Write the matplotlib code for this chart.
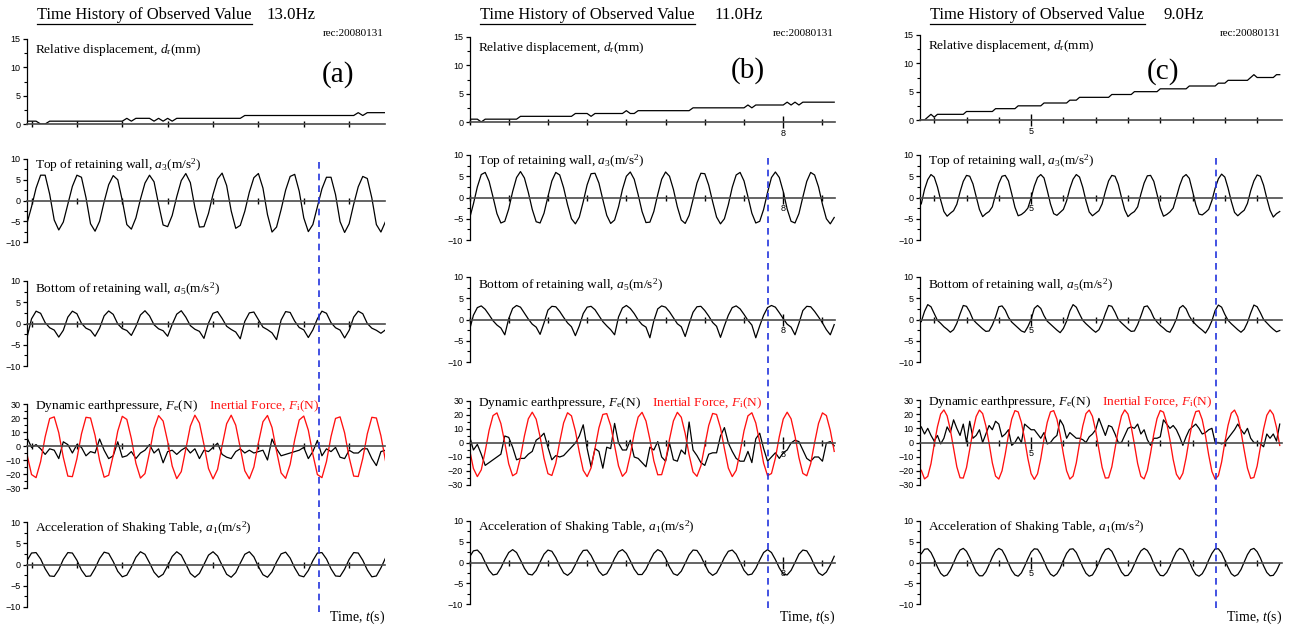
import numpy as np
import matplotlib.pyplot as plt
from matplotlib.lines import Line2D
from matplotlib.ticker import MultipleLocator, FuncFormatter
from matplotlib.transforms import blended_transform_factory

plt.rcParams['font.family'] = ['Liberation Serif', 'DejaVu Serif']
plt.rcParams['mathtext.fontset'] = 'custom'
plt.rcParams['mathtext.rm'] = 'Liberation Serif'
plt.rcParams['mathtext.it'] = 'Liberation Serif:italic'

# ---------------- data (sampled at 100 Hz) ----------------
freqs = ['13.0Hz', '11.0Hz', '9.0Hz']
letters = ['(a)', '(b)', '(c)']
record = 'rec:20080131'

t0_a, t0_b, t0_c = 6.09, 7.20, 4.66
xlim_a, xlim_b, xlim_c = (6.09, 6.879), (7.20, 8.132), (4.656, 5.777)
mark_a, mark_b, mark_c = 6.733, 7.962, 5.574   # dashed marker time

# (a) 13.0Hz
disp_a = [0.5, 0.5, 0.5, 0, 0, 0.5, 0.5, 0.5, 0.5, 0.5, 0.5, 0.5, 0.5, 0.5, 0.5, 0.5, 0.5, 0.5, 0.5, 0.5,
          0.5, 0.5, 1.0, 0.5, 1.0, 1.0, 1.0, 1.0, 0.5, 1.0, 0.5, 1.0, 0.5, 1.0, 1.0, 1.0, 1.0, 1.0, 1.0, 1.0,
          1.0, 1.0, 1.0, 1.0, 1.0, 1.0, 1.0, 1.0, 1.5, 1.5, 1.5, 1.5, 1.5, 1.5, 1.5, 1.5, 1.5, 1.5, 1.5, 1.5,
          1.5, 1.5, 1.5, 1.5, 1.5, 1.5, 1.5, 1.5, 1.5, 1.5, 1.5, 1.5, 1.5, 2.0, 1.5, 2.0, 2.0, 2.0, 2.0, 2.0]
top_a = [-5.5, -1.5, 3.0, 6.1, 6.1, 1.5, -4.7, -7.1, -5.2, -0.9,
         3.4, 6.1, 5.6, 0.7, -5.6, -7.4, -5.0, -0.3, 3.8, 6.0,
         5.0, 0.0, -5.8, -6.9, -4.2, 0.3, 4.2, 6.1, 4.5, -0.9,
         -5.9, -6.3, -3.6, 0.9, 4.8, 6.5, 4.3, -1.7, -6.4, -6.3,
         -3.1, 1.5, 5.2, 6.6, 3.6, -2.5, -6.7, -6.0, -2.6, 2.0,
         5.5, 6.5, 3.0, -3.4, -7.6, -6.4, -2.2, 2.5, 5.8, 6.3,
         2.2, -4.2, -7.5, -5.8, -1.5, 2.8, 5.6, 5.6, 1.4, -5.1,
         -7.7, -5.6, -0.9, 3.3, 5.8, 5.3, 0.6, -5.8, -7.6, -5.1]
bottom_a = [-3.3, 1.1, 2.9, 2.4, 0.2, -1.0, -1.55, -3.2, -1.6, 1.5,
            2.9, 2.3, 0.05, -1.1, -1.6, -3.0, -1.1, 1.8, 2.95, 2.15,
            -0.1, -1.2, -1.65, -2.8, -0.7, 2.0, 3.0, 1.8, -0.3, -1.25,
            -1.7, -3.0, -0.2, 2.2, 3.0, 1.5, -0.5, -1.35, -1.85, -3.5,
            0.1, 2.4, 2.8, 1.2, -0.65, -1.4, -2.0, -3.6, 0.5, 2.5,
            2.7, 0.9, -0.85, -1.45, -2.2, -3.8, 0.8, 2.8, 2.6, 0.55,
            -0.95, -1.5, -3.3, -1.5, 1.1, 2.9, 2.4, 0.2, -1.0, -1.55,
            -3.4, -1.6, 1.5, 2.9, 2.3, 0.0, -1.1, -1.6, -2.3, -1.5]
fe_a = [6, -1, 1, -2, -6, -2, -3, -9, 3, 1,
        -5, 1, -1, -7, -4, -5, 5, -3, -9, -7,
        3, -8, -7, -4, -9, -5, -3, 1, -5, -2,
        -12, -4, -3, -6, -3, -1, -5, -2, -9, -3,
        -4, -1, 2, -6, -8, -9, -4, -2, -5, -3,
        -5, -4, -3, -10, 5, -2, -7, -6, -5, -4,
        -3, -1, -9, -4, 4, -7, -2, -4, -1, -8,
        -9, -3, -5, -5, -2, -2, -9, -14, -4, -3]
fi_a = [-5.9, -20.4, -22.6, -11.2, 6.5, 19.6, 20.8, 9.5, -8.1, -21.5,
        -21.9, -9.1, 8.6, 20.5, 20.0, 7.5, -10.3, -22.3, -20.9, -6.8,
        10.6, 21.2, 19.0, 5.3, -12.3, -22.9, -19.7, -4.6, 12.5, 21.7,
        17.8, 3.2, -14.3, -23.3, -18.3, -2.2, 14.2, 22.0, 16.4, 1.0,
        -16.1, -23.5, -16.7, 0.2, 15.9, 22.0, 14.9, -1.3, -17.7, -23.4,
        -15.0, 2.3, 17.3, 21.8, 13.2, -3.7, -19.2, -23.1, -13.1, 4.5,
        18.6, 21.4, 11.3, -6.0, -20.4, -22.6, -11.1, 6.7, 19.7, 20.8,
        9.4, -8.2, -21.5, -21.8, -8.9, 8.7, 20.5, 20.0, 7.3, -10.4]
table_a = [0.9, 2.7, 2.8, 1.3, -1.0, -2.7, -2.8, -1.2, 1.2, 2.8,
           2.7, 1.0, -1.3, -2.8, -2.7, -0.9, 1.4, 2.9, 2.6, 0.7,
           -1.6, -2.9, -2.5, -0.6, 1.7, 3.0, 2.4, 0.4, -1.8, -3.0,
           -2.3, -0.3, 1.9, 3.0, 2.2, 0.1, -2.1, -3.0, -2.1, 0.0,
           2.2, 3.0, 2.0, -0.2, -2.3, -3.0, -1.9, 0.3, 2.4, 3.0,
           1.8, -0.5, -2.4, -3.0, -1.7, 0.6, 2.5, 2.9, 1.5, -0.8,
           -2.6, -2.9, -1.4, 0.9, 2.7, 2.8, 1.3, -1.0, -2.7, -2.8,
           -1.1, 1.2, 2.8, 2.7, 1.0, -1.3, -2.9, -2.7, -0.8, 1.5]

# (b) 11.0Hz
disp_b = [0.5, 0.5, 0.5, 0, 0.5, 0.5, 0.5, 0.5, 0.5, 0.5, 0.5, 0.5, 0.5, 1.0, 1.0, 1.0, 1.0, 1.0, 1.0, 1.0,
          1.0, 1.0, 1.0, 1.0, 1.0, 1.0, 1.0, 1.5, 1.5, 1.5, 1.5, 1.0, 1.5, 1.5, 1.5, 1.5, 1.5, 1.5, 1.5, 1.5,
          2.0, 1.5, 1.5, 2.0, 2.0, 2.0, 2.0, 2.0, 2.0, 2.0, 2.0, 2.0, 2.0, 2.0, 2.0, 2.0, 2.0, 2.5, 2.5, 2.5,
          2.5, 2.5, 2.5, 2.5, 2.5, 2.5, 2.5, 2.5, 2.5, 2.5, 2.5, 3.0, 2.5, 3.0, 3.0, 3.0, 3.0, 3.0, 3.0, 3.0,
          3.0, 3.5, 3.0, 3.5, 3.0, 3.5, 3.5, 3.5, 3.5, 3.5, 3.5, 3.5, 3.5, 3.5]
top_b = [-5.0, -1.5, 2.5, 5.4, 5.9, 3.8, 0.1, -3.8, -6.0, -5.6,
         -2.7, 1.4, 4.7, 6.1, 4.6, 1.2, -2.8, -5.7, -6.0, -3.7,
         0.2, 3.9, 5.9, 5.3, 2.3, -1.7, -5.0, -6.2, -4.6, -1.0,
         3.0, 5.6, 5.7, 3.4, -0.5, -4.2, -6.1, -5.3, -2.2, 1.9,
         5.0, 6.0, 4.3, 0.7, -3.3, -5.9, -5.8, -3.3, 0.7, 4.3,
         6.0, 5.0, 1.9, -2.2, -5.3, -6.1, -4.2, -0.5, 3.4, 5.7,
         5.6, 2.9, -1.0, -4.6, -6.2, -5.0, -1.7, 2.4, 5.3, 5.9,
         3.9, 0.2, -3.7, -6.0, -5.6, -2.8, 1.2, 4.7, 6.0, 4.7,
         1.4, -2.7, -5.6, -6.0, -3.8, 0.1, 3.8, 5.9, 5.3, 2.5,
         -1.6, -5.0, -6.2, -4.7]
bottom_b = [-2.5, 1.0, 2.8, 3.2, 2.4, 1.1, -0.3, -1.3, -2.0, -3.6,
            0.2, 2.6, 3.3, 2.9, 1.5, 0.1, -1.1, -1.8, -3.5, -0.8,
            2.2, 3.1, 3.0, 1.9, 0.5, -0.8, -1.7, -3.8, -1.5, 1.4,
            2.9, 3.1, 2.3, 0.9, -0.5, -1.5, -2.4, -3.6, 0.6, 2.7,
            3.3, 2.6, 1.4, -0.1, -1.2, -1.8, -4.3, -0.3, 2.5, 3.2,
            2.9, 1.8, 0.4, -1.0, -1.7, -4.0, -1.0, 1.7, 3.0, 3.1,
            2.1, 0.8, -0.7, -1.6, -4.2, -1.5, 1.0, 2.8, 3.2, 2.5,
            1.2, -0.2, -1.3, -4.3, -1.5, 1.0, 2.8, 3.3, 2.9, 1.6,
            0.2, -1.1, -1.8, -3.6, -0.9, 2.1, 3.1, 3.0, 1.9, 0.6,
            -0.8, -2.4, -3.6, -1.2]
fe_b = [5, -5, -1, -8, -16, -14, -12, -10, -8, 5,
        4, -3, -12, -11, -11, -8, -6, 2, 4, 7,
        -3, -12, -9, -10, -9, -6, -3, 0, 5, 13,
        -4, -17, -4, -6, -18, -3, -4, 14, 0, -5,
        -5, 2, -10, -11, -14, -17, -3, -5, 1, -10,
        -13, 0, -12, -13, -5, -8, 15, -5, -9, -14,
        -16, -8, -7, -7, 5, 11, 0, -6, -11, -13,
        -13, -6, -14, 3, 7, -4, -13, -10, -7, -11,
        -7, -5, 0, 2, 1, -5, -11, -13, -10, -10,
        -13, 0, 1, -2]
fi_b = [-4.5, -18.2, -24.0, -19.2, -5.9, 9.1, 19.6, 21.5, 13.9, 0.2,
        -14.9, -23.4, -21.6, -10.3, 5.0, 17.3, 22.0, 17.0, 4.5, -10.9,
        -21.9, -23.2, -14.4, 0.8, 14.4, 21.6, 19.4, 8.6, -6.5, -19.5,
        -24.0, -17.8, -3.9, 10.8, 20.4, 21.0, 12.4, -1.9, -16.4, -23.8,
        -20.6, -8.4, 6.9, 18.5, 21.9, 15.7, 2.6, -12.7, -22.7, -22.6,
        -12.6, 2.7, 15.8, 21.9, 18.4, 6.8, -8.5, -20.7, -23.8, -16.4,
        -1.8, 12.5, 21.1, 20.4, 10.8, -4.0, -17.9, -24.0, -19.5, -6.4,
        8.7, 19.4, 21.6, 14.3, 0.7, -14.4, -23.3, -21.8, -10.8, 4.6,
        17.1, 22.0, 17.3, 5.0, -10.4, -21.7, -23.4, -14.8, 0.3, 14.0,
        21.5, 19.6, 9.0, -6.0]
table_b = [1.3, 2.8, 3.0, 2.0, 0.0, -1.9, -3.0, -2.8, -1.3, 0.7,
           2.4, 3.1, 2.4, 0.6, -1.4, -2.8, -3.0, -1.9, 0.1, 2.0,
           3.0, 2.7, 1.2, -0.8, -2.5, -3.1, -2.3, -0.5, 1.5, 2.9,
           3.0, 1.7, -0.2, -2.1, -3.1, -2.7, -1.1, 1.0, 2.6, 3.1,
           2.2, 0.4, -1.6, -2.9, -2.9, -1.6, 0.4, 2.2, 3.1, 2.6,
           1.0, -1.1, -2.7, -3.1, -2.1, -0.2, 1.8, 3.0, 2.9, 1.5,
           -0.5, -2.3, -3.1, -2.5, -0.8, 1.2, 2.7, 3.0, 2.0, 0.1,
           -1.9, -3.0, -2.8, -1.4, 0.6, 2.4, 3.1, 2.4, 0.7, -1.3,
           -2.8, -3.0, -1.9, 0.0, 2.0, 3.0, 2.8, 1.3, -0.8, -2.5,
           -3.1, -2.3, -0.6, 1.5]

# (c) 9.0Hz
disp_c = [0, 0, 0.5, 1.0, 0.5, 1.0, 1.0, 1.0, 1.0, 1.0, 1.0, 1.0, 1.0, 1.0, 1.5, 1.5, 1.5, 1.5, 1.5, 1.5,
          1.5, 1.5, 1.5, 2.0, 2.0, 2.0, 2.0, 2.0, 2.0, 2.0, 2.5, 2.5, 2.5, 2.5, 2.5, 2.5, 2.5, 2.5, 3.0, 3.0,
          3.0, 3.0, 3.0, 3.0, 3.0, 3.0, 3.5, 3.5, 3.5, 4.0, 4.0, 4.0, 4.0, 4.0, 4.0, 4.0, 4.0, 4.0, 4.0, 4.5,
          4.5, 4.5, 4.5, 4.5, 4.5, 4.5, 5.0, 5.0, 5.0, 5.0, 5.0, 5.0, 5.0, 5.0, 5.5, 5.5, 5.5, 5.5, 5.5, 5.5,
          5.5, 5.5, 5.5, 6.0, 6.0, 6.0, 6.0, 6.0, 6.0, 6.0, 6.0, 6.0, 6.5, 6.5, 6.5, 7.0, 7.0, 7.0, 7.0, 7.0,
          7.0, 7.0, 7.5, 8.0, 7.5, 7.5, 7.5, 7.5, 7.5, 7.5, 8.0, 8.0]
top_c = [-1.5, 1.9, 4.2, 5.4, 4.8, 2.5, -0.6, -3.3, -4.4, -3.7,
         -3.1, -1.6, 1.3, 3.8, 5.2, 5.0, 3.2, 0.2, -2.8, -4.5,
         -3.8, -3.3, -2.2, 0.7, 3.3, 5.0, 5.2, 3.9, 0.9, -2.3,
         -4.3, -4.0, -3.4, -2.5, -0.1, 2.7, 4.7, 5.4, 4.6, 1.7,
         -1.5, -3.8, -4.2, -3.5, -2.8, -0.8, 2.1, 4.3, 5.4, 4.8,
         2.4, -0.8, -3.4, -4.3, -3.7, -3.1, -1.5, 1.4, 3.9, 5.2,
         5.0, 3.1, 0.0, -2.9, -4.5, -3.8, -3.3, -2.2, 0.8, 3.4,
         5.1, 5.2, 3.8, 0.8, -2.4, -4.4, -4.0, -3.4, -2.5, 0.1,
         2.8, 4.8, 5.4, 4.5, 1.5, -1.7, -3.9, -4.1, -3.5, -2.8,
         -0.7, 2.2, 4.4, 5.5, 4.8, 2.2, -0.9, -3.5, -4.3, -3.6,
         -3.0, -1.4, 1.6, 3.9, 5.3, 5.0, 2.9, -0.2, -3.0, -4.6,
         -3.8, -3.3]
bottom_c = [-0.5, 1.9, 3.5, 3.0, 1.4, -0.2, -0.9, -1.7, -2.3, -3.0,
            -2.4, -0.9, 1.3, 3.3, 3.1, 1.8, 0.0, -0.8, -1.5, -2.2,
            -2.8, -2.7, -1.3, 0.6, 3.0, 3.2, 2.2, 0.5, -0.6, -1.3,
            -2.0, -2.7, -3.0, -1.7, 0.0, 2.6, 3.3, 2.6, 0.9, -0.4,
            -1.1, -1.8, -2.5, -3.1, -2.1, -0.4, 2.0, 3.5, 2.9, 1.3,
            -0.2, -1.0, -1.7, -2.4, -3.0, -2.4, -0.8, 1.4, 3.3, 3.1,
            1.7, 0.0, -0.8, -1.5, -2.2, -2.8, -2.7, -1.2, 0.8, 3.0,
            3.2, 2.1, 0.4, -0.6, -1.4, -2.0, -2.7, -3.0, -1.6, 0.1,
            2.7, 3.3, 2.5, 0.8, -0.4, -1.2, -1.9, -2.5, -3.2, -2.0,
            -0.3, 2.1, 3.4, 2.9, 1.2, -0.2, -1.0, -1.7, -2.4, -3.0,
            -2.3, -0.7, 1.5, 3.4, 3.0, 1.6, 0.0, -0.8, -1.6, -2.3,
            -2.9, -2.6]
fe_c = [11, 6, 10, 5, 1, 5, -1, 3, 11, 7,
        16, 10, 5, 13, 0, 15, 3, 5, 9, 0,
        6, 12, 9, 15, 13, 4, 6, 9, -2, 0,
        4, 0, 13, 11, 9, 9, 6, 3, 7, -1,
        0, 3, 5, 16, 12, 3, 7, 5, 3, 3,
        2, 0, 4, 6, 9, 17, 11, 5, 12, 11,
        6, 0, 0, 5, 10, 11, 10, 13, 6, 9,
        2, -2, 3, 3, 4, 16, 13, 10, 12, 9,
        4, -2, 4, 9, 11, 13, 10, 6, 7, 9,
        10, 0, 0, -1, 0, 3, 6, 9, 13, 9,
        6, 10, 3, 0, 0, -1, -3, 6, 3, 6,
        1, 13]
fi_c = [-19.6, -25.7, -23.9, -15.0, -1.4, 11.1, 20.1, 23.0, 18.8, 8.9,
        -4.1, -17.1, -24.9, -25.1, -17.7, -4.8, 8.3, 18.4, 22.9, 20.4,
        11.7, -0.6, -14.4, -23.7, -25.8, -20.0, -8.2, 5.4, 16.5, 22.5,
        21.6, 14.2, 2.5, -11.3, -22.0, -26.0, -22.1, -11.4, 2.4, 14.2,
        21.6, 22.5, 16.5, 5.5, -8.1, -20.0, -25.8, -23.7, -14.4, -0.7,
        11.6, 20.4, 22.9, 18.5, 8.4, -4.8, -17.6, -25.1, -24.9, -17.2,
        -4.2, 8.9, 18.8, 23.0, 20.1, 11.2, -1.4, -14.9, -23.9, -25.7,
        -19.6, -7.5, 6.0, 16.9, 22.6, 21.4, 13.7, 1.8, -12.0, -22.4,
        -26.0, -21.7, -10.8, 3.0, 14.7, 21.8, 22.4, 16.1, 4.9, -8.8,
        -20.5, -25.8, -23.4, -13.8, 0.0, 12.2, 20.7, 22.9, 18.1, 7.8,
        -5.5, -18.1, -25.3, -24.7, -16.6, -3.4, 9.5, 19.2, 23.0, 19.8,
        10.6, -2.1]
table_c = [2.1, 3.2, 3.3, 2.4, 0.8, -1.1, -2.6, -3.3, -3.0, -1.8,
           -0.1, 1.7, 3.0, 3.4, 2.7, 1.2, -0.6, -2.3, -3.2, -3.2,
           -2.2, -0.5, 1.3, 2.8, 3.4, 3.0, 1.6, -0.2, -1.9, -3.0,
           -3.3, -2.5, -0.9, 0.9, 2.5, 3.3, 3.2, 2.0, 0.3, -1.5,
           -2.8, -3.3, -2.7, -1.4, 0.5, 2.2, 3.2, 3.3, 2.4, 0.7,
           -1.1, -2.6, -3.3, -3.0, -1.7, 0.0, 1.8, 3.1, 3.4, 2.7,
           1.1, -0.7, -2.3, -3.2, -3.1, -2.1, -0.4, 1.4, 2.8, 3.4,
           2.9, 1.6, -0.3, -2.0, -3.1, -3.2, -2.4, -0.9, 1.0, 2.6,
           3.4, 3.1, 1.9, 0.2, -1.6, -2.9, -3.3, -2.7, -1.3, 0.6,
           2.2, 3.3, 3.3, 2.3, 0.6, -1.2, -2.7, -3.3, -2.9, -1.7,
           0.1, 1.9, 3.1, 3.4, 2.6, 1.1, -0.8, -2.4, -3.2, -3.1,
           -2.0, -0.3]

row_labels = [r'Relative displacement, $d_{\rm r}$(mm)',
              r'Top of retaining wall, $a_3$(m/s$^2$)',
              r'Bottom of retaining wall, $a_5$(m/s$^2$)',
              r'Dynamic earthpressure, $F_{\rm e}$(N)',
              r'Acceleration of Shaking Table, $a_1$(m/s$^2$)']
fi_label = r'Inertial Force, $F_{\rm i}$(N)'
ylims = [(0, 15), (-10, 10), (-10, 10), (-30, 30), (-10, 10)]
ymajor = [5, 5, 5, 10, 5]
yminor = [2.5, 2.5, 2.5, 5, 2.5]
label_dy = [11, 6, 8, 2, 6]

# ---------------- layout (pixels) ----------------
W, H = 1289, 628
cols = [
    dict(left=27, right=385, tops=[39, 159, 281, 404, 522], bots=[124, 242, 366, 488, 607],
         t0=t0_a, xlim=xlim_a, mark=mark_a, series=[disp_a, top_a, bottom_a, fe_a, table_a], fi=fi_a,
         title_x=37, hz_x=267, letter_x=338, letter_y=75, dash=(157, 612)),
    dict(left=469.5, right=835, tops=[37, 155, 277, 401, 521], bots=[122, 240, 362, 485, 604],
         t0=t0_b, xlim=xlim_b, mark=mark_b, series=[disp_b, top_b, bottom_b, fe_b, table_b], fi=fi_b,
         title_x=480, hz_x=715, letter_x=748, letter_y=71, dash=(157, 608)),
    dict(left=920, right=1282, tops=[35, 155, 277, 400, 521], bots=[120, 240, 362, 485, 604],
         t0=t0_c, xlim=xlim_c, mark=mark_c, series=[disp_c, top_c, bottom_c, fe_c, table_c], fi=fi_c,
         title_x=930, hz_x=1164, letter_x=1163, letter_y=72, dash=(157, 608)),
]

fig = plt.figure(figsize=(W / 100, H / 100), dpi=100)

titles = []
for ci, c in enumerate(cols):
    axes = []
    for r in range(5):
        l, rt, tp, bt = c['left'], c['right'], c['tops'][r], c['bots'][r]
        ax = fig.add_axes([l / W, 1 - bt / H, (rt - l) / W, (bt - tp) / H])
        ax.patch.set_visible(False)
        vals = c['series'][r]
        t = c['t0'] + 0.01 * np.arange(len(vals))
        ax.plot(t, vals, color='black', lw=0.9, zorder=2)
        if r == 3:
            tf = c['t0'] + 0.01 * np.arange(len(c['fi']))
            ax.plot(tf, c['fi'], color='#ff1010', lw=0.95, zorder=2.1)
        ax.set_xlim(c['xlim'])
        ax.set_ylim(ylims[r])

        ax.spines['top'].set_visible(False)
        ax.spines['right'].set_visible(False)
        ax.spines['bottom'].set_position(('data', 0))
        ax.spines['bottom'].set_color('#4a4a4a')
        ax.spines['bottom'].set_linewidth(1.2)
        ax.spines['left'].set_linewidth(0.9)

        ax.xaxis.set_major_locator(MultipleLocator(1.0))
        ax.xaxis.set_minor_locator(MultipleLocator(0.1))
        ax.xaxis.set_major_formatter(FuncFormatter(lambda v, p: f'{v:.0f}'))
        ax.tick_params(axis='x', which='major', direction='inout', length=9, width=1.0,
                       labelsize=6.5, pad=0.5, labelfontfamily='Liberation Sans')
        ax.tick_params(axis='x', which='minor', direction='inout', length=5, width=1.0)
        ax.yaxis.set_major_locator(MultipleLocator(ymajor[r]))
        ax.yaxis.set_minor_locator(MultipleLocator(yminor[r]))
        ax.tick_params(axis='y', which='major', direction='out', length=3, width=0.9,
                       labelsize=6.5, pad=1.5, labelfontfamily='Liberation Sans')
        ax.tick_params(axis='y', which='minor', direction='out', length=2, width=0.8)

        ax.annotate(row_labels[r], xy=(0, 1), xycoords='axes fraction',
                    xytext=(8, -label_dy[r]), textcoords='offset pixels',
                    fontsize=9.6, va='center', ha='left')
        if r == 3:
            ax.annotate(fi_label, xy=(0, 1), xycoords='axes fraction',
                        xytext=(182, -label_dy[r]), textcoords='offset pixels',
                        fontsize=9.6, va='center', ha='left', color='#ff1010')
        axes.append(ax)

    # dashed marker through rows 2-5
    tr = blended_transform_factory(axes[4].transData, fig.transFigure)
    fig.add_artist(Line2D([c['mark'], c['mark']], [1 - c['dash'][1] / H, 1 - c['dash'][0] / H],
                          transform=tr, color='#2233dd', lw=1.2, ls=(0, (4, 3))))

    tt = fig.text(c['title_x'] / W, 1 - 15 / H, 'Time History of Observed Value',
                  fontsize=11.9, va='center', ha='left')
    titles.append(tt)
    fig.text(c['hz_x'] / W, 1 - 15 / H, freqs[ci], fontsize=12.1, va='center', ha='left')
    fig.text(c['right'] / W - 1 / W, 1 - 33 / H, record, fontsize=8, va='center', ha='right')
    fig.text(c['letter_x'] / W, 1 - c['letter_y'] / H, letters[ci], fontsize=21,
             va='center', ha='center')
    fig.text(c['right'] / W, 1 - 617 / H, r'Time, $t$(s)', fontsize=10, va='center', ha='right')

# underline the titles
fig.canvas.draw()
rend = fig.canvas.get_renderer()
for tt in titles:
    bb = tt.get_window_extent(rend)
    y = (bb.y0 - 1) / H
    fig.add_artist(Line2D([bb.x0 / W, bb.x1 / W], [y, y], transform=fig.transFigure,
                          color='black', lw=0.9))

fig.savefig('out.png', dpi=100)
